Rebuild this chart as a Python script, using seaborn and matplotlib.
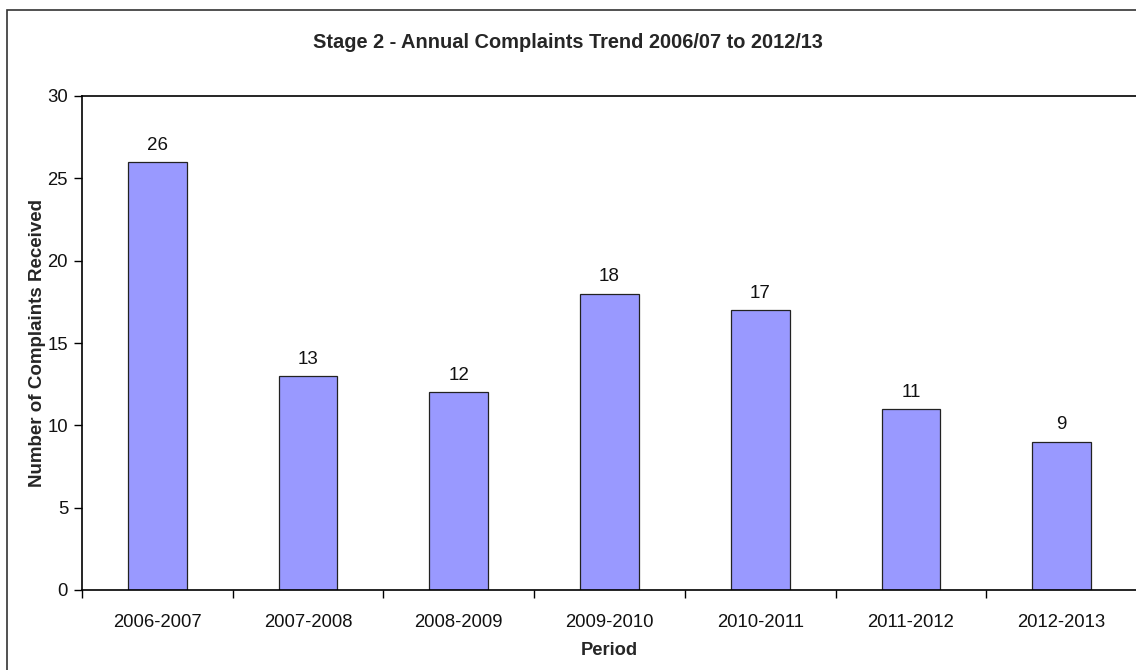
import matplotlib
matplotlib.use("Agg")
import matplotlib.pyplot as plt
import matplotlib.patches as mpatches
from matplotlib.ticker import FixedLocator, NullFormatter
import seaborn as sns
import pandas as pd

periods = ["2006-2007", "2007-2008", "2008-2009", "2009-2010", "2010-2011", "2011-2012", "2012-2013"]
complaints = [26, 13, 12, 18, 17, 11, 9]
y_ticks = [0, 5, 10, 15, 20, 25, 30]

title = "Stage 2 - Annual Complaints Trend 2006/07 to 2012/13"
x_label = "Period"
y_label = "Number of Complaints Received"

sns.set_style("white")
plt.rcParams["font.family"] = ["Liberation Sans", "DejaVu Sans"]

df = pd.DataFrame({"Period": periods, "Complaints": complaints})

W, H = 1136, 670
fig = plt.figure(figsize=(W / 100, H / 100), dpi=100)
ax = fig.add_axes([82 / W, 1 - 590 / H, (1137 - 82) / W, (590 - 96) / H])

sns.barplot(data=df, x="Period", y="Complaints", color="#9999FF", edgecolor="#222222",
            linewidth=0.9, width=0.39, saturation=1, ax=ax)

ax.set_xlim(-0.5, len(periods) - 0.5)
ax.set_ylim(0, 30)
ax.set_yticks(y_ticks)
ax.set_yticklabels([str(t) for t in y_ticks], fontsize=13.3, color="#111111")
ax.tick_params(axis="y", which="major", direction="out", length=6, width=1, color="black", pad=4, left=True)
ax.tick_params(axis="x", which="major", length=0, pad=17, labelsize=13.3, labelcolor="#111111")
ax.xaxis.set_minor_locator(FixedLocator([i - 0.5 for i in range(len(periods) + 1)]))
ax.xaxis.set_minor_formatter(NullFormatter())
ax.tick_params(axis="x", which="minor", direction="out", length=6, width=1, color="black", bottom=True)

for sp in ["left", "bottom", "top"]:
    ax.spines[sp].set_visible(True)
    ax.spines[sp].set_color("black")
    ax.spines[sp].set_linewidth(1.2)
ax.spines["right"].set_visible(False)

for c in ax.containers:
    ax.bar_label(c, labels=[str(v) for v in complaints], padding=6, fontsize=13.5, color="#111111")

ax.set_xlabel(x_label, fontsize=13.2, fontweight="bold", labelpad=8)
ax.set_ylabel(y_label, fontsize=13.5, fontweight="bold", labelpad=1)
fig.text(0.5, 1 - 42 / H, title, ha="center", va="center", fontsize=14.4, fontweight="bold")

border = mpatches.Rectangle((7 / W, -0.1), 2, 1 - 10 / H + 0.1, transform=fig.transFigure,
                            fill=False, edgecolor="#333333", linewidth=1.2, clip_on=False)
fig.patches.append(border)

fig.savefig("out.png", dpi=100)
